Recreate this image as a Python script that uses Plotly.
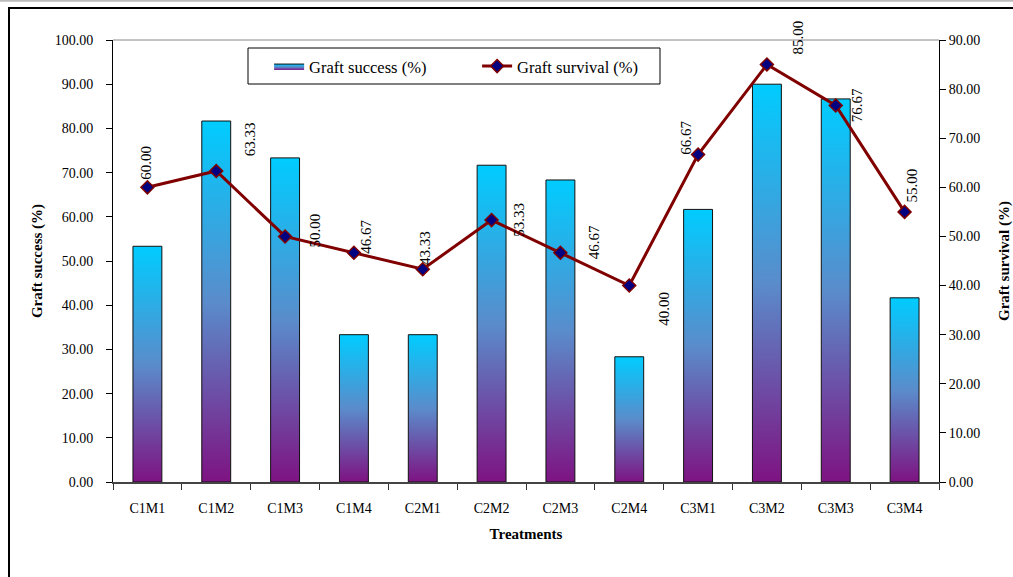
import plotly.graph_objects as go

# Treatments and measured values
treatments = ["C1M1", "C1M2", "C1M3", "C1M4", "C2M1", "C2M2",
              "C2M3", "C2M4", "C3M1", "C3M2", "C3M3", "C3M4"]
graft_success = [53.33, 81.67, 73.33, 33.33, 33.33, 71.67,
                 68.33, 28.33, 61.67, 90.00, 86.67, 41.67]
graft_survival = [60.00, 63.33, 50.00, 46.67, 43.33, 53.33,
                  46.67, 40.00, 66.67, 85.00, 76.67, 55.00]
left_ticks = [0, 10, 20, 30, 40, 50, 60, 70, 80, 90, 100]
right_ticks = [0, 10, 20, 30, 40, 50, 60, 70, 80, 90]

# pixel offsets of the rotated value labels relative to their markers
label_dx = [-1, 34, 30, 12, 2, 28, 33, 34, -13, 31, 22, 7]
label_dy = [25, 32, 6, 16, 21, 0, 11, -23, 17, 27, 0, 26]

FONT = "Liberation Serif"
PURPLE = "#7E1382"
CYAN = "#00CCFF"
half_w = 0.21

fig = go.Figure()

# gradient-filled bars (one closed polygon per treatment)
for i, v in enumerate(graft_success):
    fig.add_trace(go.Scatter(
        x=[i - half_w, i + half_w, i + half_w, i - half_w, i - half_w],
        y=[0, 0, v, v, 0],
        mode="lines",
        fill="toself",
        fillgradient=dict(type="vertical",
                          colorscale=[[0, PURPLE], [0.5, "#5A8CCB"], [1, CYAN]]),
        line=dict(color="#111111", width=1),
        name="Graft success (%)",
        showlegend=(i == 0),
        legendgroup="success",
        hoverinfo="skip",
        yaxis="y",
    ))

fig.add_trace(go.Scatter(
    x=list(range(len(treatments))),
    y=graft_survival,
    mode="lines+markers",
    line=dict(color="#800000", width=3),
    marker=dict(symbol="diamond", size=10, color="#000080",
                line=dict(color="#800000", width=1.5)),
    name="Graft survival (%)",
    yaxis="y2",
))

for i, v in enumerate(graft_survival):
    fig.add_annotation(
        x=i, y=v, xref="x", yref="y2",
        text=f"{v:.2f}", showarrow=False, textangle=-90,
        xshift=label_dx[i], yshift=label_dy[i],
        font=dict(family=FONT, size=15, color="black"),
    )

fig.update_layout(
    width=1013, height=577,
    margin=dict(l=113, r=74, t=40, b=95),
    paper_bgcolor="white", plot_bgcolor="white",
    font=dict(family=FONT, size=14, color="black"),
    xaxis=dict(
        range=[-0.5, len(treatments) - 0.5],
        tickvals=list(range(len(treatments))),
        ticktext=treatments,
        ticks="",
        ticklabelstandoff=12,
        minor=dict(tickvals=[k - 0.5 for k in range(len(treatments) + 1)],
                   ticks="outside", ticklen=6, tickcolor="#333333", tickwidth=1),
        showline=True, linecolor="#444444", linewidth=2,
        showgrid=False, zeroline=False, automargin=False,
        tickfont=dict(family=FONT, size=14),
        title=dict(text="<b>Treatments</b>", font=dict(family=FONT, size=15), standoff=14),
    ),
    yaxis=dict(
        range=[0, 100], tickvals=left_ticks, tickformat=".2f",
        ticks="outside", ticklen=6, tickcolor="black",
        ticklabelstandoff=10,
        showline=True, linecolor="black", linewidth=1,
        showgrid=False, zeroline=False, automargin=False,
        tickfont=dict(family=FONT, size=14),
        title=dict(text="<b>Graft success (%)</b>", font=dict(family=FONT, size=15), standoff=8),
    ),
    yaxis2=dict(
        range=[0, 90], tickvals=right_ticks, tickformat=".2f",
        overlaying="y", side="right",
        ticks="outside", ticklen=6, tickcolor="black",
        showline=True, linecolor="black", linewidth=1,
        showgrid=False, zeroline=False, automargin=False,
        tickfont=dict(family=FONT, size=14),
        title=dict(text="<b>Graft survival (%)</b>", font=dict(family=FONT, size=15), standoff=20),
    ),
    legend=dict(
        orientation="h", x=0.189, y=0.98, xanchor="left", yanchor="top",
        borderwidth=0, bgcolor="rgba(0,0,0,0)",
        font=dict(family=FONT, size=16.5),
        entrywidth=163, itemwidth=30,
    ),
    showlegend=True,
)

# legend frame
fig.add_shape(type="rect", xref="paper", yref="paper",
              x0=(248 - 113) / 826, x1=(660 - 113) / 826,
              y0=(482 - 84) / 442, y1=(482 - 48) / 442,
              line=dict(color="black", width=1), fillcolor="white", layer="below")

# plot-area top edge and outer chart frame
fig.add_shape(type="line", xref="paper", yref="paper", x0=0, x1=1, y0=1, y1=1,
              line=dict(color="#888888", width=1))
fig.add_shape(type="rect", xref="paper", yref="paper",
              x0=-0.1259, x1=1.10, y0=-0.25, y1=1.0724,
              line=dict(color="black", width=2), fillcolor="rgba(0,0,0,0)")
fig.add_shape(type="line", xref="paper", yref="paper", x0=-0.2, x1=1.2,
              y0=1.089, y1=1.089, line=dict(color="#BBBBBB", width=2))

fig.write_html("out.html")
